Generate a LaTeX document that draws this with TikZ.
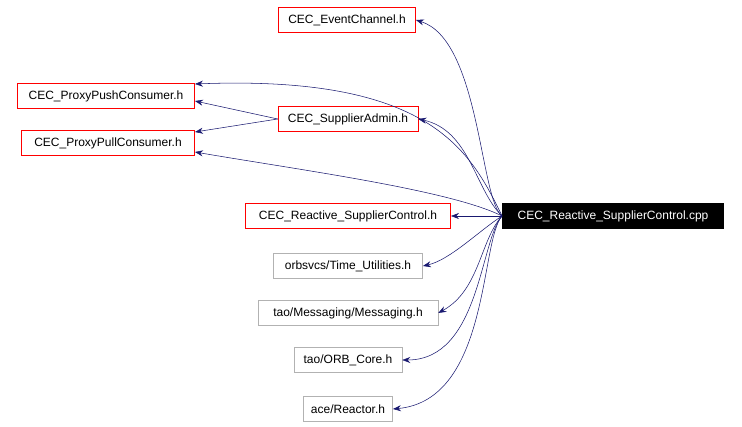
\documentclass[tikz,border=0pt]{standalone}
\usepackage{fontspec}
\setmainfont{Liberation Sans}
\usetikzlibrary{arrows.meta}

\definecolor{edgeblue}{HTML}{191970}
\tikzset{
  inc/.style={draw=red, fill=white, inner sep=0pt, minimum height=19pt, font=\fontsize{9}{10}\selectfont},
  ext/.style={draw=gray!60, fill=white, inner sep=0pt, minimum height=19pt, font=\fontsize{9}{10}\selectfont},
  main/.style={draw=black, fill=black, text=white, inner sep=0pt, minimum height=19pt, font=\fontsize{9}{10}\selectfont},
  dep/.style={draw=edgeblue, -{Stealth[length=6pt,width=4.5pt]}}
}

\begin{document}
\begin{tikzpicture}[x=0.75pt, y=-0.75pt]
\useasboundingbox (0,0) rectangle (742,427);

\node[main, minimum width=166pt] (cpp) at (613,216) {CEC\_Reactive\_SupplierControl.cpp};

\node[inc, minimum width=103pt] (EC) at (347,20) {CEC\_EventChannel.h};
\node[inc, minimum width=133pt] (PPush) at (106,96) {CEC\_ProxyPushConsumer.h};
\node[inc, minimum width=105pt] (SA) at (348,119) {CEC\_SupplierAdmin.h};
\node[inc, minimum width=130pt] (PPull) at (108,143) {CEC\_ProxyPullConsumer.h};
\node[inc, minimum width=154pt] (RSC) at (348,216) {CEC\_Reactive\_SupplierControl.h};
\node[ext, minimum width=112pt] (TU) at (348,266) {orbsvcs/Time\_Utilities.h};
\node[ext, minimum width=135pt] (MSG) at (348,313) {tao/Messaging/Messaging.h};
\node[ext, minimum width=81pt] (ORB) at (348,360) {tao/ORB\_Core.h};
\node[ext, minimum width=67pt] (REA) at (348,409) {ace/Reactor.h};

% edges from the source file
\draw[dep] (cpp.west) .. controls (480,200) and (480,40) .. (EC.east);
\draw[dep] (cpp.west) .. controls (470,150) and (430,75) .. (PPush.east |- 0,84);
\draw[dep] (cpp.west) .. controls (475,190) and (470,130) .. (SA.east);
\draw[dep] (cpp.west) .. controls (450,190) and (300,170) .. (PPull.east |- 0,152);
\draw[dep] (cpp.west) -- (RSC.east);
\draw[dep] (cpp.west) .. controls (480,230) and (450,260) .. (TU.east);
\draw[dep] (cpp.west) .. controls (480,240) and (480,290) .. (MSG.east);
\draw[dep] (cpp.west) .. controls (480,240) and (480,360) .. (ORB.east);
\draw[dep] (cpp.west) .. controls (480,240) and (490,400) .. (REA.east);

% edges from the supplier admin
\draw[dep] (SA.west) -- (PPush.east |- 0,101);
\draw[dep] (SA.west) -- (PPull.east |- 0,132);
\end{tikzpicture}
\end{document}
